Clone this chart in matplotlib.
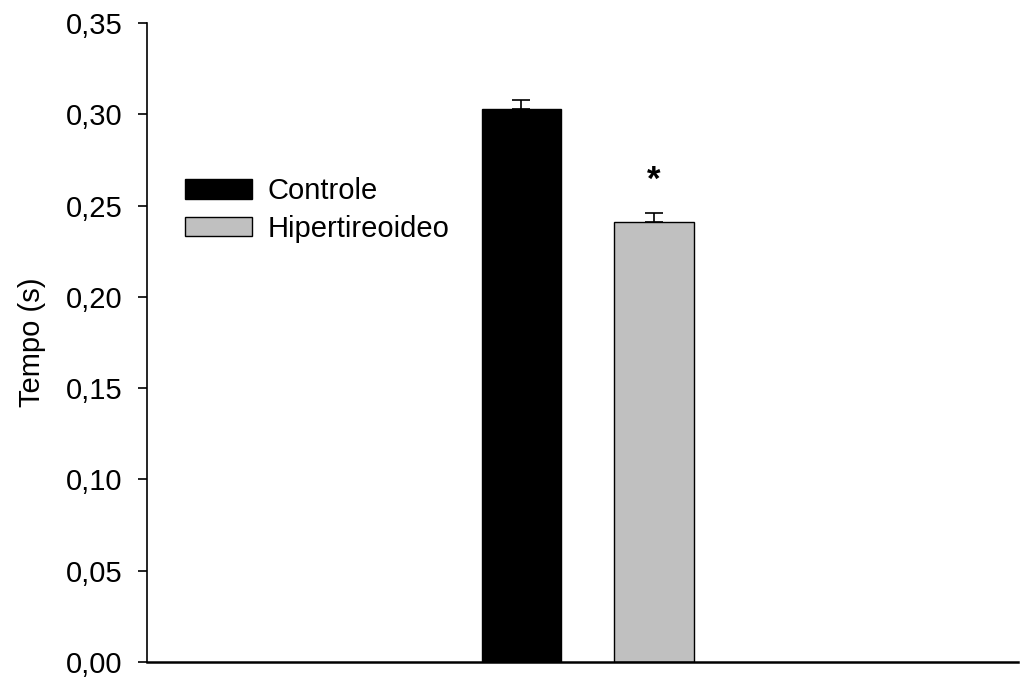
import numpy as np
import matplotlib
matplotlib.use("Agg")
import matplotlib.pyplot as plt

plt.rcParams['font.family'] = ['Liberation Sans', 'DejaVu Sans']

# data
groups = ['Controle', 'Hipertireoideo']
means = [0.303, 0.241]
errs = [0.005, 0.005]
colors = ['black', '#c0c0c0']
yticks = [0.00, 0.05, 0.10, 0.15, 0.20, 0.25, 0.30, 0.35]
ytick_labels = ['0,00', '0,05', '0,10', '0,15', '0,20', '0,25', '0,30', '0,35']

fig = plt.figure(figsize=(10.22, 6.79), dpi=100)
ax = fig.add_axes([0.1438, 0.025, 0.852, 0.941])

x = np.array([1, 2])
for i in range(len(groups)):
    ax.bar(x[i], means[i], width=0.6, color=colors[i], edgecolor='black',
           linewidth=1, label=groups[i], zorder=2)
    # upper half error bar only
    ax.errorbar(x[i], means[i], yerr=[[0], [errs[i]]], fmt='none', ecolor='black',
                elinewidth=1.2, capsize=6.5, capthick=1.2, zorder=1)

# significance mark
ax.text(x[1], means[1] + errs[1] + 0.018, '*', ha='center', va='center',
        fontsize=25, fontweight='bold')

ax.set_xlim(-1.826, 4.747)
ax.set_ylim(0, 0.35)
ax.set_yticks(yticks)
ax.set_yticklabels(ytick_labels)
ax.set_xticks([])
ax.tick_params(axis='y', direction='out', length=6.5, width=1.2, pad=11, labelsize=21)
ax.set_ylabel('Tempo (s)', fontsize=21, labelpad=14)

for s in ['top', 'right']:
    ax.spines[s].set_visible(False)
ax.spines['left'].set_linewidth(1.2)
ax.spines['bottom'].set_linewidth(1.8)

ax.legend(loc='upper left', bbox_to_anchor=(0.03, 0.777), frameon=False, fontsize=21,
          handlelength=2.3, handleheight=0.65, handletextpad=0.55, labelspacing=0.32,
          borderaxespad=0)

fig.savefig('out.png', dpi=100)
